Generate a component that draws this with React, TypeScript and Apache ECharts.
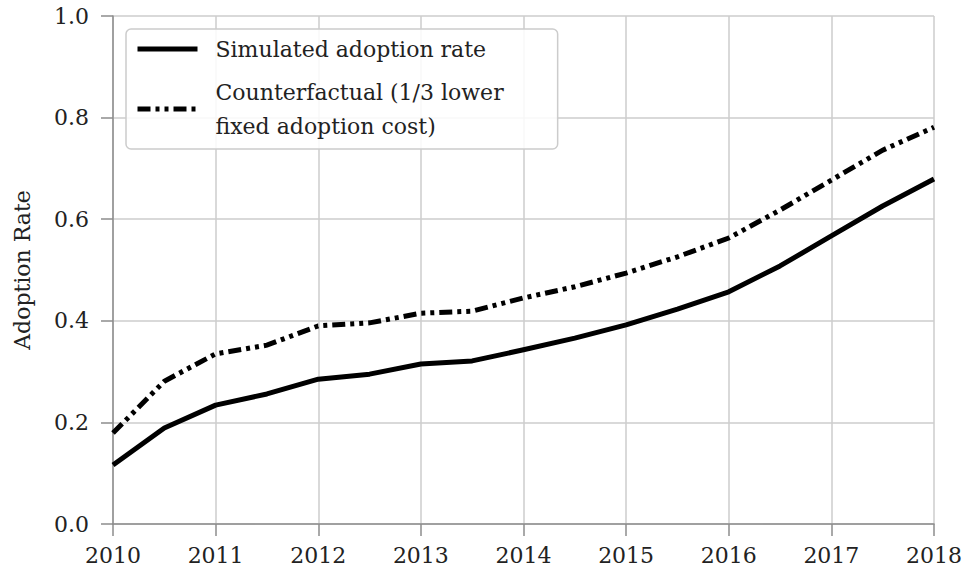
import React, { useEffect, useRef } from "react";
import * as echarts from "echarts";

const years = [2010, 2010.5, 2011, 2011.5, 2012, 2012.5, 2013, 2013.5, 2014, 2014.5, 2015, 2015.5, 2016, 2016.5, 2017, 2017.5, 2018];
const simulated = [0.116, 0.189, 0.234, 0.256, 0.285, 0.295, 0.315, 0.321, 0.343, 0.366, 0.392, 0.423, 0.457, 0.508, 0.567, 0.626, 0.679];
const counterfactual = [0.179, 0.281, 0.335, 0.352, 0.390, 0.396, 0.415, 0.419, 0.445, 0.467, 0.494, 0.526, 0.563, 0.618, 0.677, 0.736, 0.781];
const seriesNames = ["Simulated adoption rate", "Counterfactual (1/3 lower fixed adoption cost)"];
const legendLabels: Record<string, string> = {
  "Simulated adoption rate": "Simulated adoption rate",
  "Counterfactual (1/3 lower fixed adoption cost)": "Counterfactual (1/3 lower\nfixed adoption cost)",
};

const FONT = "DejaVu Serif";
const DASH = [13, 5, 4, 5, 4, 5];

export default function App() {
  const ref = useRef<HTMLDivElement>(null);
  useEffect(() => {
    if (!ref.current) return;
    const chart = echarts.init(ref.current, undefined, { renderer: "svg" });
    chart.setOption({
      animation: false,
      backgroundColor: "#ffffff",
      textStyle: { fontFamily: FONT },
      grid: { left: 113, right: 30, top: 16, bottom: 49, containLabel: false, outerBoundsMode: "none" },
      xAxis: {
        type: "value",
        min: 2010,
        max: 2018,
        interval: 1,
        axisLine: { show: true, lineStyle: { color: "#8c8c8c", width: 1.5 } },
        axisTick: { show: true, length: 12, lineStyle: { color: "#8c8c8c", width: 1.5 } },
        axisLabel: { color: "#222", fontSize: 22, fontFamily: FONT, margin: 20, formatter: (v: number) => String(v) },
        splitLine: { show: true, lineStyle: { color: "#cccccc", width: 1.5 } },
      },
      yAxis: {
        type: "value",
        min: 0,
        max: 1,
        interval: 0.2,
        name: "Adoption Rate",
        nameLocation: "middle",
        nameGap: 80,
        nameTextStyle: { color: "#222", fontSize: 22, fontFamily: FONT },
        axisLine: { show: true, lineStyle: { color: "#8c8c8c", width: 1.5 } },
        axisTick: { show: true, length: 12, lineStyle: { color: "#8c8c8c", width: 1.5 } },
        axisLabel: { color: "#222", fontSize: 22, fontFamily: FONT, margin: 24, formatter: (v: number) => v.toFixed(1) },
        splitLine: { show: true, lineStyle: { color: "#cccccc", width: 1.5 } },
      },
      legend: {
        orient: "vertical",
        left: 126,
        top: 29,
        data: seriesNames,
        backgroundColor: "rgba(255,255,255,0.85)",
        borderColor: "#cccccc",
        borderWidth: 1.5,
        borderRadius: 5,
        padding: [3, 54, 6, 9],
        itemWidth: 60,
        itemHeight: 14,
        itemGap: 9,
        itemStyle: { opacity: 0 },
        lineStyle: { width: 5, cap: "butt" },
        formatter: (name: string) => legendLabels[name] || name,
        textStyle: { color: "#222", fontSize: 22, fontFamily: FONT, lineHeight: 34, padding: [0, 0, 0, 13] },
      },
      series: [
        {
          name: seriesNames[0],
          type: "line",
          data: years.map((y, i) => [y, simulated[i]]),
          showSymbol: false,
          symbol: "none",
          lineStyle: { color: "#000", width: 5, cap: "butt", join: "round" },
          itemStyle: { color: "#000" },
        },
        {
          name: seriesNames[1],
          type: "line",
          data: years.map((y, i) => [y, counterfactual[i]]),
          showSymbol: false,
          symbol: "none",
          lineStyle: { color: "#000", width: 5, type: DASH, cap: "butt", join: "miter" },
          itemStyle: { color: "#000" },
        },
      ],
    });
    return () => chart.dispose();
  }, []);
  return <div ref={ref} style={{ width: 964, height: 573, position: "absolute", left: 0, top: 0 }} />;
}
